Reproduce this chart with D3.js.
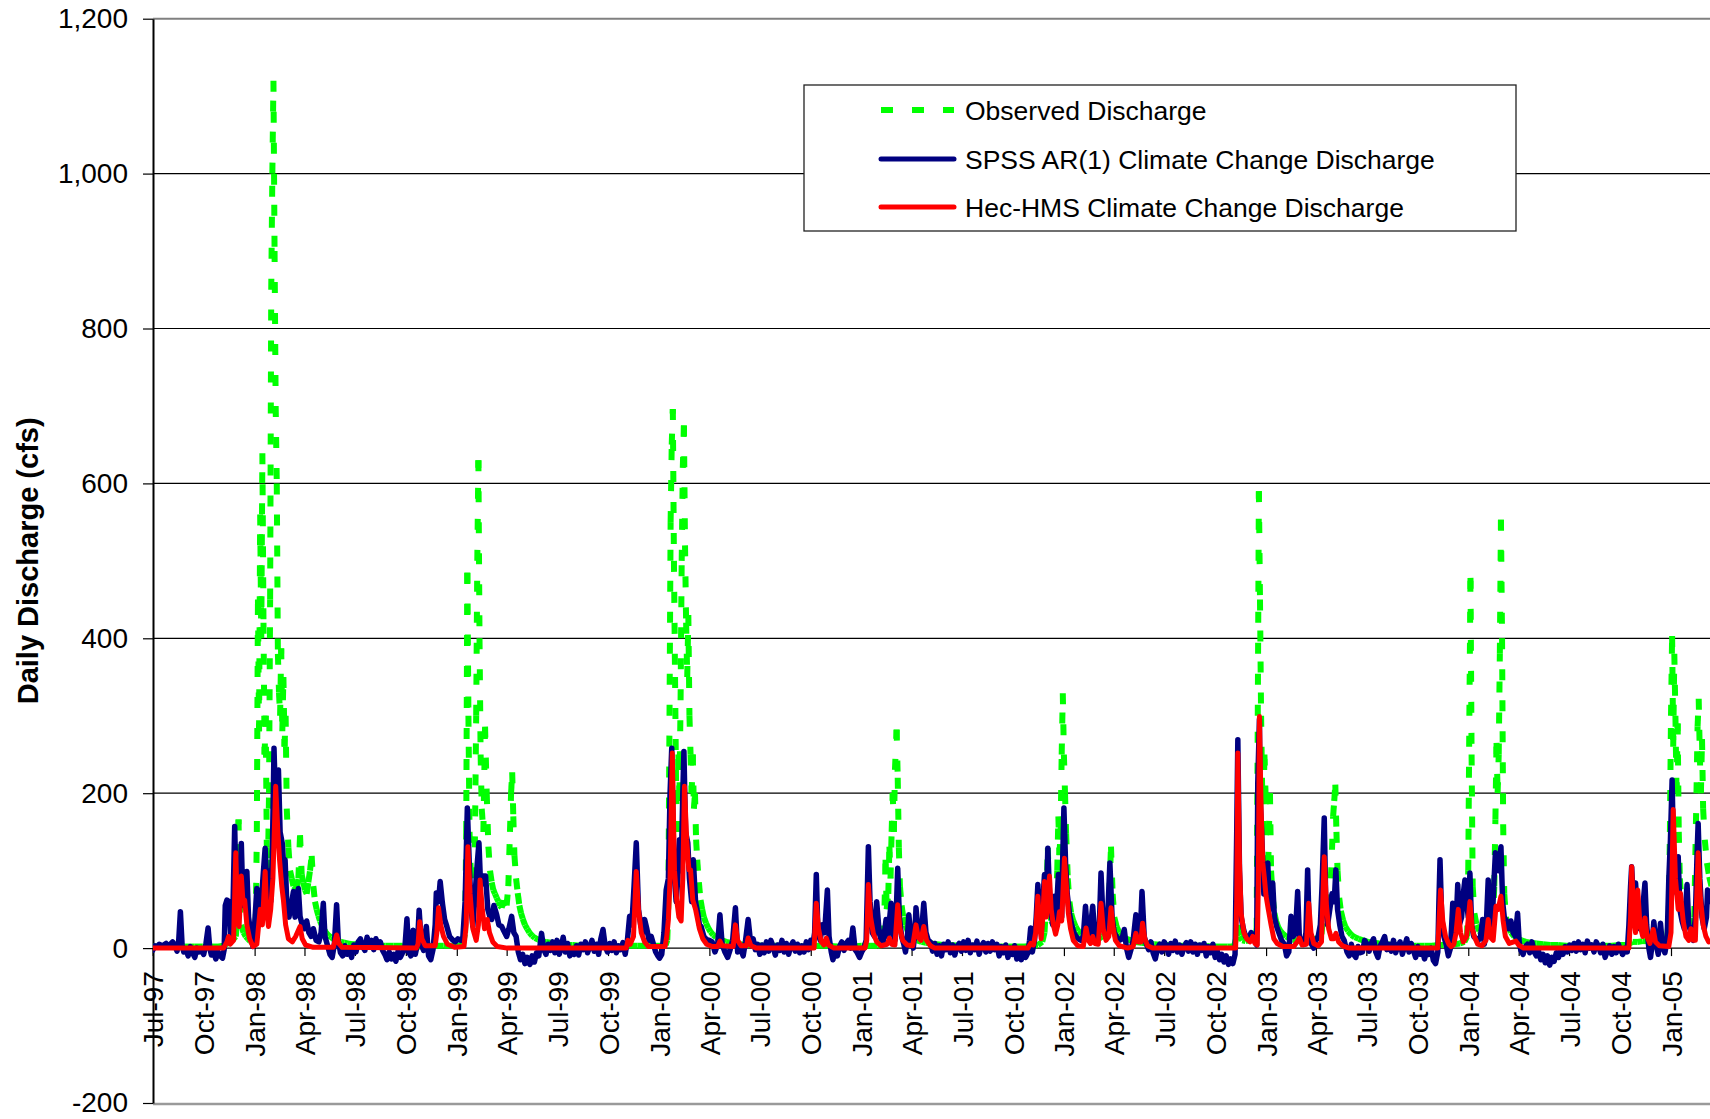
<!DOCTYPE html>
<html>
<head>
<meta charset="utf-8">
<script src="https://cdn.jsdelivr.net/npm/d3@7"></script>
<style>
body { margin: 0; background: #ffffff; }
svg { display: block; }
text { font-family: "Liberation Sans", Arial, sans-serif; fill: #000; }
</style>
</head>
<body>
<svg id="chart" width="1710" height="1119"></svg>
<script>
// ---------------- DATA ----------------
const startDate = "1997-07-01";            // day 0 of the daily series
const xTickLabels = ["Jul-97","Oct-97","Jan-98","Apr-98","Jul-98","Oct-98","Jan-99","Apr-99","Jul-99","Oct-99",
  "Jan-00","Apr-00","Jul-00","Oct-00","Jan-01","Apr-01","Jul-01","Oct-01","Jan-02","Apr-02","Jul-02","Oct-02",
  "Jan-03","Apr-03","Jul-03","Oct-03","Jan-04","Apr-04","Jul-04","Oct-04","Jan-05"];
const yTickValues = [-200, 0, 200, 400, 600, 800, 1000, 1200];
const yTickLabels = ["-200", "0", "200", "400", "600", "800", "1,000", "1,200"];
const seriesNames = ["Observed Discharge", "SPSS AR(1) Climate Change Discharge", "Hec-HMS Climate Change Discharge"];
const yTitle = "Daily Discharge (cfs)";

// [day since startDate, discharge cfs]
const observed = [[0,2],[15,2],[30,2],[45,2],[60,2],[75,2],[90,2],[105,2],[120,2],[128,3],[134,6],[140,8],[146,12],[150,15],[153,40],[155,166],[157,60],[160,30],[164,20],[168,15],[172,12],[176,9],[180,7],[184,6],[186,30],[188,150],[190,450],[192,280],[194,560],[196,400],[198,639],[200,420],[202,250],[204,300],[206,130],[208,100],[210,200],[212,450],[214,850],[216,1000],[218,1120],[220,900],[222,700],[224,600],[226,380],[228,330],[230,300],[232,387],[234,280],[236,350],[238,260],[240,300],[242,180],[245,130],[248,100],[251,90],[254,80],[257,78],[260,75],[263,90],[266,146],[269,95],[272,85],[275,75],[278,70],[281,85],[284,100],[287,119],[290,80],[293,60],[296,50],[299,42],[302,35],[305,30],[308,26],[311,22],[314,19],[318,16],[322,14],[326,12],[330,10],[335,9],[340,8],[346,7],[352,6],[360,5],[370,5],[380,4],[392,4],[405,3],[420,3],[435,3],[450,3],[465,2],[480,2],[495,2],[510,3],[525,3],[540,3],[552,3],[560,4],[564,20],[566,150],[568,485],[570,300],[572,150],[575,80],[578,60],[581,90],[584,300],[586,500],[588,630],[590,400],[592,250],[594,180],[597,150],[600,286],[603,200],[606,131],[609,100],[612,85],[615,75],[618,70],[621,65],[624,60],[627,55],[630,52],[633,62],[636,58],[639,55],[642,80],[645,150],[647,200],[649,227],[651,170],[653,120],[656,90],[659,71],[662,55],[665,45],[668,38],[672,30],[676,25],[680,20],[685,16],[690,13],[696,11],[702,9],[710,8],[718,7],[726,6],[735,5],[745,4],[758,4],[772,3],[786,3],[800,3],[815,2],[830,2],[845,2],[860,3],[875,3],[890,3],[905,3],[918,3],[926,4],[929,10],[931,60],[933,300],[935,550],[937,650],[939,696],[941,500],[943,350],[945,200],[947,150],[949,250],[951,200],[953,320],[955,500],[957,620],[959,675],[961,520],[963,420],[965,350],[967,430],[969,300],[971,250],[973,200],[975,250],[977,180],[979,200],[981,140],[983,114],[986,85],[989,62],[992,50],[995,40],[999,32],[1003,26],[1007,21],[1012,17],[1017,14],[1022,12],[1028,10],[1035,8],[1043,7],[1052,6],[1062,5],[1073,4],[1085,4],[1100,3],[1115,3],[1130,3],[1145,2],[1160,2],[1175,2],[1190,3],[1205,3],[1220,3],[1235,2],[1250,2],[1265,2],[1280,3],[1295,3],[1308,3],[1316,4],[1320,15],[1323,114],[1325,50],[1328,70],[1330,131],[1332,90],[1334,150],[1336,200],[1338,150],[1340,230],[1343,282],[1345,220],[1347,130],[1349,80],[1352,55],[1355,40],[1359,30],[1363,22],[1368,17],[1374,13],[1380,10],[1388,8],[1396,7],[1405,6],[1415,5],[1427,4],[1440,4],[1455,3],[1470,3],[1485,3],[1500,2],[1515,2],[1530,2],[1545,2],[1560,2],[1575,2],[1588,3],[1598,4],[1606,8],[1610,20],[1613,60],[1616,129],[1619,50],[1622,35],[1626,30],[1630,50],[1633,100],[1635,170],[1637,120],[1639,150],[1641,250],[1643,329],[1645,250],[1647,200],[1649,148],[1652,90],[1655,60],[1658,45],[1662,35],[1666,28],[1671,22],[1676,18],[1682,15],[1688,13],[1695,11],[1702,11],[1708,12],[1714,15],[1720,18],[1724,30],[1727,70],[1730,131],[1733,70],[1736,40],[1740,28],[1745,20],[1751,15],[1758,12],[1766,10],[1775,8],[1785,7],[1796,6],[1808,5],[1822,4],[1836,4],[1850,3],[1865,3],[1880,3],[1895,3],[1910,2],[1925,2],[1940,2],[1952,2],[1957,15],[1959,30],[1962,15],[1967,10],[1973,9],[1979,10],[1985,12],[1990,14],[1993,25],[1995,300],[1997,590],[1999,450],[2001,300],[2003,200],[2005,150],[2007,250],[2009,200],[2011,100],[2013,70],[2015,150],[2017,200],[2019,100],[2022,65],[2025,45],[2028,35],[2032,27],[2036,22],[2041,18],[2046,15],[2052,13],[2058,11],[2064,10],[2070,10],[2076,9],[2082,10],[2088,11],[2094,12],[2100,12],[2105,14],[2110,18],[2113,40],[2115,60],[2118,45],[2121,40],[2124,55],[2127,90],[2129,127],[2131,170],[2133,190],[2135,211],[2137,150],[2139,100],[2142,65],[2145,48],[2149,36],[2153,28],[2158,22],[2164,17],[2170,14],[2177,12],[2185,10],[2194,8],[2204,7],[2215,6],[2227,5],[2240,4],[2254,4],[2268,3],[2282,3],[2296,3],[2310,3],[2322,4],[2330,4],[2340,4],[2350,5],[2360,6],[2368,8],[2373,15],[2375,100],[2377,300],[2379,478],[2381,250],[2383,80],[2386,45],[2390,30],[2395,22],[2400,18],[2405,16],[2410,16],[2415,18],[2419,25],[2422,80],[2424,166],[2426,265],[2428,200],[2430,250],[2432,380],[2434,553],[2436,400],[2438,160],[2440,70],[2443,40],[2447,28],[2452,20],[2458,15],[2464,12],[2471,10],[2479,8],[2488,7],[2498,6],[2510,5],[2523,4],[2537,4],[2551,3],[2565,3],[2579,3],[2593,3],[2607,3],[2621,3],[2635,3],[2648,4],[2660,4],[2666,6],[2672,8],[2680,8],[2690,9],[2700,9],[2710,9],[2720,10],[2728,10],[2734,12],[2737,40],[2739,150],[2741,300],[2743,403],[2745,260],[2747,380],[2749,300],[2751,200],[2753,290],[2755,150],[2757,90],[2760,60],[2764,45],[2768,37],[2772,30],[2776,26],[2780,25],[2783,40],[2785,120],[2787,200],[2789,286],[2791,322],[2793,250],[2795,200],[2797,270],[2799,180],[2802,140],[2806,110],[2810,92],[2814,80]];

const spssAR1 = [[0,-3],[4,3],[8,2],[12,5],[16,3],[20,4],[24,6],[28,2],[32,5],[36,8],[40,3],[44,-4],[47,10],[50,47],[53,5],[56,-5],[60,-2],[64,-10],[68,2],[72,-6],[76,-12],[80,0],[84,-5],[88,-3],[92,-8],[96,5],[100,26],[103,0],[106,-9],[110,-4],[114,-14],[118,-5],[122,-10],[126,-13],[129,-2],[131,55],[134,62],[138,60],[141,15],[144,20],[148,157],[151,60],[154,40],[157,70],[160,135],[163,55],[166,80],[170,99],[173,40],[177,20],[181,2],[184,30],[188,77],[192,40],[196,60],[200,100],[203,129],[206,80],[209,100],[213,60],[216,120],[219,258],[222,180],[225,140],[227,230],[230,150],[234,135],[237,100],[239,114],[242,60],[246,40],[250,55],[254,73],[257,40],[260,50],[263,77],[266,41],[270,30],[274,25],[278,35],[282,20],[286,15],[290,25],[295,10],[300,8],[304,20],[308,58],[311,15],[315,5],[320,-8],[324,-12],[328,5],[332,56],[335,10],[339,-6],[343,-10],[347,3],[351,-8],[355,-3],[359,-12],[363,4],[367,-5],[371,8],[375,12],[379,2],[383,-3],[387,14],[391,5],[395,10],[399,-2],[403,12],[407,4],[411,8],[415,-3],[419,-8],[423,-15],[427,-5],[431,-14],[435,-8],[439,-17],[443,-4],[447,-12],[451,-6],[455,-2],[459,38],[462,-5],[466,-10],[470,23],[474,-8],[478,5],[481,49],[485,5],[489,-3],[494,28],[498,-10],[502,-15],[506,-2],[510,30],[512,71],[516,60],[519,86],[523,58],[527,37],[531,28],[536,15],[541,11],[546,8],[551,12],[556,10],[560,14],[564,60],[568,181],[572,100],[575,50],[578,28],[582,70],[586,110],[589,136],[592,80],[596,93],[601,93],[605,50],[609,40],[612,37],[616,55],[621,43],[625,30],[630,28],[634,22],[639,15],[643,25],[648,41],[652,20],[656,15],[660,-5],[664,-15],[668,-8],[672,-20],[676,-12],[681,-21],[685,-10],[689,-18],[693,-6],[697,-10],[702,19],[706,-2],[710,-8],[714,5],[718,-3],[722,8],[726,-6],[730,10],[734,-8],[738,2],[741,14],[745,-5],[749,6],[753,-10],[757,-3],[761,-8],[765,3],[769,-9],[773,5],[777,-2],[781,8],[785,-6],[789,2],[793,10],[797,-4],[801,5],[805,-8],[809,12],[813,24],[817,2],[821,-5],[825,6],[829,-3],[833,8],[837,-6],[841,3],[845,-2],[849,7],[853,-8],[857,10],[861,41],[865,30],[869,80],[873,136],[877,50],[881,30],[885,20],[888,37],[892,25],[896,10],[900,15],[904,5],[908,-5],[912,-10],[915,-13],[919,-8],[923,20],[927,75],[931,90],[934,200],[937,258],[941,100],[945,60],[948,90],[951,140],[954,100],[957,200],[959,254],[962,150],[966,136],[969,90],[973,60],[976,114],[980,60],[984,45],[987,30],[990,28],[995,15],[1000,11],[1005,10],[1010,8],[1015,-5],[1020,5],[1024,43],[1028,5],[1033,-5],[1038,-12],[1042,-3],[1047,10],[1052,52],[1056,-5],[1060,2],[1066,-10],[1070,8],[1075,37],[1079,10],[1084,12],[1088,-2],[1092,5],[1096,-8],[1100,4],[1104,-6],[1108,8],[1112,-4],[1116,10],[1120,2],[1124,-9],[1128,4],[1132,-3],[1136,10],[1140,-5],[1144,6],[1148,-8],[1152,3],[1156,8],[1160,-4],[1164,5],[1168,-6],[1172,3],[1176,-5],[1180,8],[1184,-2],[1188,10],[1192,5],[1195,20],[1198,95],[1201,20],[1205,10],[1209,30],[1213,20],[1218,75],[1221,15],[1225,-5],[1228,-15],[1232,-5],[1236,-10],[1240,2],[1244,8],[1248,-3],[1252,6],[1256,10],[1260,0],[1264,26],[1268,-2],[1272,-6],[1276,-12],[1280,-5],[1284,0],[1288,10],[1292,131],[1295,60],[1299,20],[1303,15],[1307,60],[1311,25],[1315,10],[1318,5],[1321,20],[1324,37],[1327,15],[1330,35],[1333,58],[1336,20],[1340,10],[1343,60],[1345,103],[1348,40],[1352,15],[1356,5],[1359,-5],[1362,10],[1365,43],[1369,15],[1373,0],[1376,20],[1378,52],[1382,20],[1386,15],[1389,30],[1392,58],[1396,20],[1400,10],[1404,8],[1408,-4],[1412,6],[1416,-8],[1420,3],[1424,-10],[1428,5],[1432,-2],[1436,8],[1440,-6],[1444,4],[1448,-9],[1452,2],[1456,6],[1460,-4],[1464,8],[1468,-3],[1472,10],[1476,-6],[1480,4],[1484,-2],[1488,9],[1492,-8],[1496,3],[1500,7],[1504,-5],[1508,6],[1512,-4],[1516,8],[1520,-2],[1524,5],[1528,-10],[1532,2],[1536,-6],[1540,4],[1544,-12],[1548,0],[1552,-8],[1556,3],[1560,-14],[1564,-5],[1568,-15],[1572,-4],[1576,-12],[1580,-6],[1583,10],[1585,26],[1588,-5],[1592,10],[1595,40],[1598,82],[1601,30],[1604,20],[1607,60],[1610,95],[1613,50],[1616,129],[1619,70],[1622,45],[1625,30],[1628,67],[1631,40],[1635,95],[1638,50],[1641,40],[1643,120],[1645,181],[1648,110],[1651,70],[1655,45],[1659,30],[1663,20],[1667,15],[1671,12],[1676,10],[1680,15],[1684,54],[1688,15],[1692,20],[1697,54],[1701,15],[1705,10],[1709,30],[1712,97],[1716,30],[1720,20],[1724,40],[1728,110],[1732,40],[1736,20],[1740,15],[1745,10],[1750,12],[1754,24],[1758,0],[1762,-12],[1766,-2],[1770,10],[1775,43],[1779,10],[1783,20],[1786,73],[1790,15],[1794,5],[1798,-2],[1802,8],[1806,-6],[1810,-14],[1814,0],[1818,5],[1822,-5],[1826,8],[1830,3],[1834,-8],[1838,6],[1842,-3],[1846,9],[1850,-5],[1854,4],[1858,-8],[1862,2],[1866,7],[1870,-4],[1874,8],[1878,-5],[1882,5],[1886,-8],[1890,4],[1894,-3],[1898,6],[1902,-10],[1906,2],[1910,-6],[1914,5],[1918,-12],[1922,-4],[1926,-15],[1930,-8],[1934,-18],[1938,-10],[1942,-21],[1946,-14],[1950,-20],[1954,-8],[1957,150],[1959,269],[1962,100],[1965,40],[1969,25],[1973,15],[1978,12],[1983,20],[1986,17],[1990,8],[1993,4],[1995,213],[1998,295],[1999,200],[2002,150],[2006,70],[2010,80],[2013,110],[2016,50],[2019,60],[2022,84],[2025,40],[2029,28],[2033,20],[2038,10],[2043,5],[2047,-10],[2051,-5],[2055,41],[2059,15],[2063,20],[2067,73],[2070,15],[2074,8],[2078,5],[2082,20],[2085,101],[2088,20],[2092,5],[2096,0],[2100,10],[2104,15],[2108,30],[2111,80],[2115,168],[2118,50],[2121,30],[2125,50],[2129,70],[2133,60],[2136,101],[2139,50],[2143,30],[2147,15],[2151,10],[2156,-5],[2160,-10],[2164,5],[2168,-8],[2172,-12],[2176,2],[2180,-6],[2184,-5],[2188,10],[2192,5],[2196,-4],[2200,6],[2204,12],[2208,-5],[2212,-12],[2216,3],[2220,8],[2224,15],[2228,-2],[2232,5],[2236,-4],[2240,10],[2244,-6],[2248,3],[2252,8],[2256,-8],[2260,2],[2264,12],[2268,-5],[2272,6],[2276,-3],[2280,-12],[2284,2],[2288,-8],[2292,-2],[2296,-14],[2300,-4],[2304,-8],[2308,0],[2312,-16],[2316,-20],[2320,-5],[2322,60],[2324,114],[2327,40],[2331,15],[2335,5],[2339,-10],[2343,0],[2347,58],[2350,20],[2353,30],[2356,82],[2359,30],[2363,40],[2366,70],[2369,88],[2372,60],[2375,40],[2378,97],[2381,30],[2385,15],[2389,12],[2393,10],[2397,15],[2401,37],[2404,5],[2407,20],[2411,88],[2414,20],[2418,30],[2421,80],[2424,123],[2427,110],[2430,100],[2434,131],[2437,60],[2440,40],[2444,35],[2448,25],[2452,35],[2456,20],[2460,15],[2464,45],[2467,8],[2470,-3],[2474,-8],[2478,2],[2482,5],[2486,-6],[2490,8],[2494,-5],[2498,-10],[2502,-4],[2506,-15],[2510,-8],[2514,-19],[2518,-10],[2522,-22],[2526,-12],[2530,-17],[2534,-6],[2538,-12],[2542,-2],[2546,-8],[2550,2],[2554,-5],[2558,4],[2562,-3],[2566,6],[2570,-4],[2574,8],[2578,-2],[2582,5],[2586,-6],[2590,9],[2594,0],[2598,4],[2602,-5],[2606,8],[2610,2],[2614,-6],[2618,5],[2622,-12],[2626,-4],[2630,3],[2634,-8],[2638,2],[2642,-6],[2646,5],[2650,-3],[2654,-8],[2658,0],[2662,-5],[2665,30],[2668,80],[2670,105],[2673,60],[2677,84],[2680,50],[2684,25],[2688,30],[2691,60],[2694,84],[2697,30],[2701,0],[2704,-12],[2707,5],[2710,34],[2714,5],[2718,-8],[2722,32],[2726,0],[2730,-6],[2734,10],[2737,88],[2740,140],[2743,217],[2746,100],[2749,80],[2752,70],[2754,118],[2757,50],[2761,35],[2765,25],[2770,82],[2773,30],[2777,20],[2781,10],[2785,40],[2788,120],[2790,161],[2793,90],[2797,40],[2801,25],[2805,40],[2807,75],[2810,60]];

const hecHMS = [[0,0],[128,0],[134,8],[137,15],[140,5],[146,10],[150,123],[153,45],[156,28],[160,93],[163,60],[166,62],[170,30],[175,12],[181,2],[188,5],[194,50],[198,30],[203,99],[206,45],[209,28],[213,50],[217,90],[222,209],[226,150],[229,114],[233,80],[236,62],[240,30],[245,12],[252,8],[258,15],[266,28],[270,12],[276,4],[290,1],[326,1],[332,17],[336,6],[342,1],[476,0],[479,5],[482,34],[486,12],[492,3],[510,3],[513,20],[516,52],[520,30],[525,15],[532,5],[545,1],[562,2],[566,30],[569,131],[573,70],[578,25],[584,10],[588,30],[591,88],[595,50],[599,25],[604,37],[608,20],[614,8],[622,2],[640,0],[855,0],[858,10],[862,5],[868,15],[873,99],[877,50],[882,20],[888,8],[895,2],[925,2],[928,15],[931,37],[934,90],[938,252],[942,100],[946,62],[950,40],[954,35],[957,90],[960,209],[964,140],[968,101],[971,101],[975,62],[980,50],[987,25],[993,12],[1000,5],[1010,2],[1020,2],[1024,9],[1028,3],[1048,2],[1052,30],[1056,10],[1062,3],[1072,3],[1075,13],[1080,3],[1090,0],[1194,0],[1198,58],[1202,25],[1207,8],[1212,4],[1216,13],[1220,4],[1230,0],[1286,0],[1289,10],[1292,82],[1296,40],[1301,19],[1307,8],[1315,3],[1326,5],[1330,13],[1334,5],[1340,4],[1345,56],[1349,25],[1354,10],[1362,4],[1372,3],[1378,30],[1382,14],[1387,10],[1392,28],[1397,10],[1404,3],[1412,0],[1580,0],[1585,6],[1590,4],[1594,20],[1598,67],[1601,30],[1604,12],[1607,40],[1610,86],[1613,40],[1616,60],[1619,93],[1622,50],[1626,30],[1630,18],[1634,30],[1637,47],[1641,35],[1646,116],[1650,75],[1653,45],[1657,25],[1662,10],[1670,3],[1680,2],[1685,26],[1689,10],[1693,6],[1697,15],[1701,6],[1707,5],[1712,58],[1716,25],[1721,10],[1726,15],[1730,52],[1734,25],[1738,10],[1745,3],[1760,0],[1770,2],[1775,19],[1779,8],[1784,8],[1787,32],[1791,12],[1796,3],[1805,0],[1955,0],[1957,60],[1959,252],[1962,110],[1965,45],[1970,20],[1975,12],[1981,8],[1986,15],[1990,6],[1994,4],[1996,80],[1998,299],[2001,180],[2004,110],[2007,90],[2010,67],[2014,50],[2019,30],[2024,12],[2030,6],[2040,2],[2060,2],[2066,8],[2070,13],[2075,4],[2083,5],[2087,58],[2091,20],[2096,6],[2104,3],[2110,8],[2115,118],[2119,55],[2123,25],[2128,12],[2132,12],[2136,19],[2141,8],[2148,3],[2160,0],[2320,0],[2322,30],[2325,75],[2329,35],[2334,15],[2340,5],[2344,2],[2349,5],[2353,20],[2357,50],[2361,20],[2366,8],[2372,15],[2378,60],[2382,25],[2386,15],[2392,5],[2400,3],[2407,10],[2411,37],[2415,14],[2420,10],[2425,54],[2429,50],[2434,67],[2438,35],[2442,15],[2449,6],[2461,9],[2466,4],[2475,0],[2665,0],[2668,40],[2670,105],[2674,40],[2677,20],[2681,75],[2685,30],[2690,15],[2694,39],[2698,14],[2703,6],[2709,24],[2713,8],[2720,3],[2737,2],[2741,20],[2745,179],[2749,90],[2754,50],[2758,71],[2763,35],[2768,15],[2773,10],[2777,25],[2781,10],[2785,10],[2790,123],[2794,65],[2799,30],[2804,15],[2809,8]];

const seriesColors = ["#00ff00", "#000080", "#ff0000"];

// ---------------- CHART ----------------
const svg = d3.select("#chart");
const W = 1710, H = 1119;
const plot = { left: 153, top: 18.7, right: 1712, bottom: 1103 };

const base = d3.timeParse("%Y-%m-%d")(startDate);
const toDate = d => d3.timeDay.offset(base, d);
const parseTick = d3.timeParse("%b-%y");
const xTickDates = xTickLabels.map(parseTick);

const x = d3.scaleTime()
  .domain([base, xTickDates[xTickDates.length - 1]])
  .range([152.7, 1671]);
const y = d3.scaleLinear().domain([-200, 1200]).range([plot.bottom, plot.top]);

svg.append("rect").attr("width", W).attr("height", H).attr("fill", "#fff");

// clip
svg.append("defs").append("clipPath").attr("id", "clip")
  .append("rect").attr("x", plot.left).attr("y", plot.top - 4)
  .attr("width", plot.right - plot.left).attr("height", plot.bottom - plot.top + 8);

// gridlines
svg.append("g").selectAll("line")
  .data(yTickValues.filter(v => v > -200 && v < 1200))
  .join("line")
  .attr("x1", plot.left).attr("x2", W)
  .attr("y1", d => y(d)).attr("y2", d => y(d))
  .attr("stroke", "#000").attr("stroke-width", 1.2);

// top & bottom borders
svg.append("line").attr("x1", plot.left).attr("x2", W)
  .attr("y1", y(1200)).attr("y2", y(1200))
  .attr("stroke", "#808080").attr("stroke-width", 2);
svg.append("line").attr("x1", plot.left).attr("x2", W)
  .attr("y1", y(-200) + 1).attr("y2", y(-200) + 1)
  .attr("stroke", "#9a9a9a").attr("stroke-width", 2.5);

// y axis
const yAxis = d3.axisLeft(y).tickValues(yTickValues)
  .tickFormat((d, i) => yTickLabels[i]).tickSize(10).tickSizeOuter(0).tickPadding(15);
const gy = svg.append("g").attr("transform", `translate(${plot.left},0)`).call(yAxis);
gy.select(".domain").attr("stroke", "#000").attr("stroke-width", 2);
gy.selectAll(".tick line").attr("stroke", "#000").attr("stroke-width", 1.2);
gy.selectAll("text").attr("font-size", 28).attr("font-family", '"Liberation Sans", Arial, sans-serif').attr("fill", "#000");

// x axis at zero
const xAxis = d3.axisBottom(x).tickValues(xTickDates)
  .tickFormat((d, i) => xTickLabels[i]).tickSize(8).tickSizeOuter(0);
const gx = svg.append("g").attr("transform", `translate(0,${y(0)})`).call(xAxis);
gx.select(".domain").remove();
gx.selectAll(".tick line").attr("stroke", "#000").attr("stroke-width", 1.2);
gx.selectAll("text")
  .attr("font-size", 28).attr("font-family", '"Liberation Sans", Arial, sans-serif').attr("fill", "#000")
  .attr("transform", "rotate(-90)")
  .attr("text-anchor", "end")
  .attr("x", -23).attr("y", 0).attr("dy", "0.36em");

// series
const line = d3.line().x(d => x(toDate(d[0]))).y(d => y(d[1]));
const gs = svg.append("g").attr("clip-path", "url(#clip)");

// observed: dashed, dash pattern restarts on each daily segment (as in Excel)
gs.append("g").selectAll("path")
  .data(d3.pairs(observed))
  .join("path")
  .attr("d", p => line(p))
  .attr("fill", "none")
  .attr("stroke", seriesColors[0])
  .attr("stroke-width", 6)
  .attr("stroke-dasharray", "11,20");

gs.append("path").datum(spssAR1)
  .attr("d", line).attr("fill", "none")
  .attr("stroke", seriesColors[1]).attr("stroke-width", 5.5)
  .attr("stroke-linejoin", "round").attr("stroke-linecap", "round");

gs.append("path").datum(hecHMS)
  .attr("d", line).attr("fill", "none")
  .attr("stroke", seriesColors[2]).attr("stroke-width", 5)
  .attr("stroke-linejoin", "round").attr("stroke-linecap", "round");

// y title
svg.append("text")
  .attr("transform", `translate(28,${(plot.top + plot.bottom) / 2}) rotate(-90)`)
  .attr("text-anchor", "middle").attr("dy", "0.36em")
  .attr("font-size", 29).attr("font-weight", "bold")
  .text(yTitle);

// legend
const lg = svg.append("g");
lg.append("rect").attr("x", 804).attr("y", 85).attr("width", 712).attr("height", 146)
  .attr("fill", "#fff").attr("stroke", "#222").attr("stroke-width", 1.3);
const rows = [110, 159, 207];
seriesNames.forEach((name, i) => {
  const ln = lg.append("line").attr("x1", 881).attr("x2", 954)
    .attr("y1", rows[i]).attr("y2", rows[i])
    .attr("stroke", seriesColors[i]).attr("stroke-width", i === 0 ? 6 : 5);
  if (i === 0) ln.attr("stroke-dasharray", "12,19");
  else ln.attr("stroke-linecap", "round");
  lg.append("text").attr("x", 965).attr("y", rows[i]).attr("dy", "0.36em")
    .attr("font-size", 26.5).text(name);
});
</script>
</body>
</html>
